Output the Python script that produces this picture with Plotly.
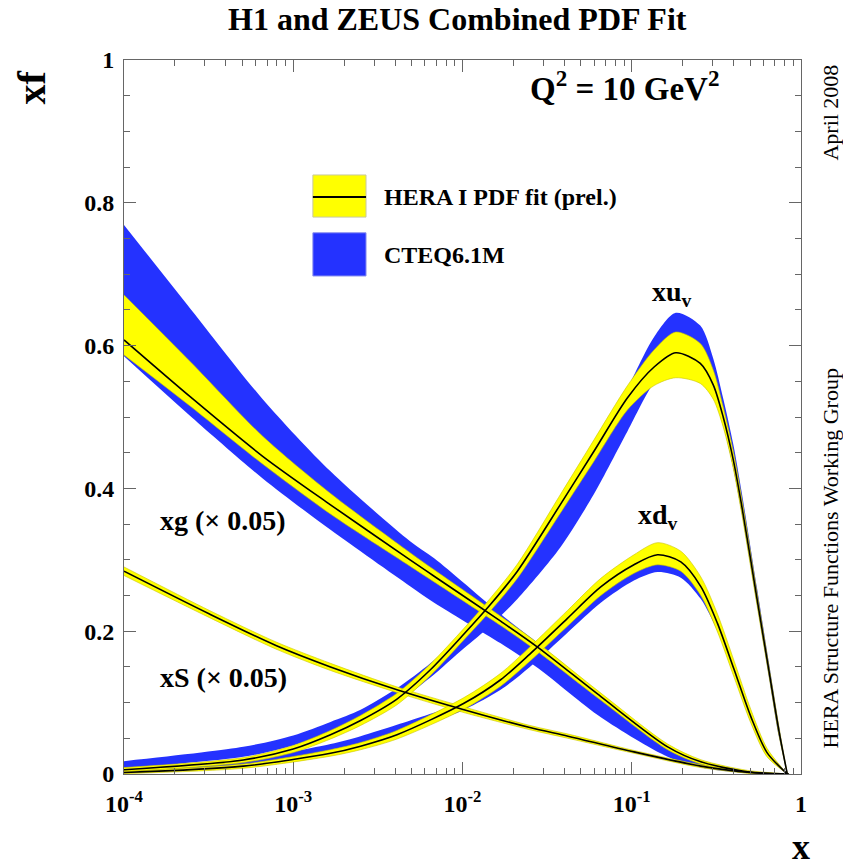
import plotly.graph_objects as go

# ---------------- data ----------------
# xg (x 0.05)
xg_x = [1e-4, 2.5e-4, 6.6e-4, 1.66e-3, 4.9e-3, 6.8e-3, 1.68e-2, 2.8e-2, 6.6e-2, 0.163, 0.256, 0.485, 0.85]
xg_hera = [0.608, 0.527, 0.445, 0.377, 0.300, 0.277, 0.214, 0.177, 0.108, 0.038, 0.017, 0.003, 0.0]
xg_hera_lo = [0.587, 0.514, 0.434, 0.364, 0.291, 0.269, 0.208, 0.171, 0.103, 0.034, 0.014, 0.001, 0.0]
xg_hera_hi = [0.671, 0.576, 0.473, 0.393, 0.310, 0.286, 0.221, 0.183, 0.113, 0.042, 0.020, 0.005, 0.0]
xg_cteq_lo = [0.585, 0.500, 0.414, 0.342, 0.263, 0.240, 0.183, 0.148, 0.079, 0.024, 0.009, 0.001, 0.0]
xg_cteq_hi = [0.769, 0.650, 0.525, 0.424, 0.326, 0.302, 0.224, 0.183, 0.112, 0.040, 0.018, 0.004, 0.0]

# xS (x 0.05)
xs_x = [1e-4, 3.2e-4, 7.9e-4, 1.66e-3, 4.1e-3, 1.02e-2, 2.5e-2, 4.2e-2, 0.103, 0.256, 0.5, 0.84]
xs_hera = [0.284, 0.224, 0.180, 0.150, 0.118, 0.090, 0.065, 0.053, 0.031, 0.011, 0.002, 0.0]
xs_hera_lo = [0.278, 0.219, 0.175, 0.145, 0.114, 0.086, 0.062, 0.050, 0.029, 0.009, 0.001, 0.0]
xs_hera_hi = [0.290, 0.229, 0.185, 0.155, 0.122, 0.094, 0.068, 0.056, 0.033, 0.013, 0.003, 0.0]

# xu_v
xu_x = [1e-4, 5.07e-4, 1e-3, 1.66e-3, 2.5e-3, 4.1e-3, 6.46e-3, 1.02e-2, 1.47e-2, 2.11e-2, 3.8e-2,
        5.98e-2, 9.44e-2, 0.1355, 0.182, 0.254, 0.303, 0.347, 0.398, 0.447, 0.55, 0.646, 0.741, 0.83]
xu_hera = [0.006, 0.0196, 0.035, 0.055, 0.075, 0.105, 0.146, 0.196, 0.238, 0.284, 0.378,
           0.452, 0.527, 0.570, 0.590, 0.575, 0.545, 0.500, 0.440, 0.375, 0.245, 0.145, 0.060, 0.0]
xu_hera_lo = [0.003, 0.016, 0.030, 0.049, 0.068, 0.097, 0.138, 0.188, 0.229, 0.274, 0.366,
              0.438, 0.510, 0.544, 0.555, 0.547, 0.525, 0.486, 0.428, 0.364, 0.236, 0.138, 0.054, 0.0]
xu_hera_hi = [0.009, 0.023, 0.040, 0.061, 0.082, 0.113, 0.154, 0.204, 0.247, 0.294, 0.392,
              0.468, 0.544, 0.594, 0.619, 0.603, 0.566, 0.514, 0.452, 0.386, 0.254, 0.152, 0.066, 0.0]
xu_cteq_lo = [0.008, 0.024, 0.040, 0.058, 0.074, 0.100, 0.135, 0.176, 0.208, 0.245, 0.318,
              0.392, 0.480, 0.548, 0.575, 0.562, 0.532, 0.488, 0.428, 0.364, 0.236, 0.136, 0.052, 0.0]
xu_cteq_hi = [0.018, 0.038, 0.054, 0.073, 0.090, 0.120, 0.155, 0.198, 0.233, 0.275, 0.372,
              0.445, 0.540, 0.612, 0.646, 0.628, 0.582, 0.526, 0.462, 0.394, 0.260, 0.156, 0.068, 0.0]

# xd_v
xd_x = [1e-4, 5.07e-4, 1.66e-3, 2.5e-3, 4.1e-3, 1.02e-2, 1.68e-2, 2.5e-2, 4.17e-2, 6.56e-2,
        0.103, 0.142, 0.195, 0.256, 0.321, 0.403, 0.506, 0.63, 0.83]
xd_hera = [0.002, 0.011, 0.029, 0.039, 0.055, 0.099, 0.132, 0.168, 0.218, 0.262,
           0.293, 0.307, 0.297, 0.2625, 0.211, 0.146, 0.080, 0.030, 0.0]
xd_hera_lo = [0.0005, 0.008, 0.025, 0.034, 0.049, 0.091, 0.123, 0.158, 0.207, 0.250,
              0.281, 0.293, 0.284, 0.250, 0.199, 0.135, 0.071, 0.024, 0.0]
xd_hera_hi = [0.004, 0.014, 0.034, 0.044, 0.061, 0.107, 0.141, 0.178, 0.229, 0.274,
              0.307, 0.324, 0.312, 0.276, 0.224, 0.158, 0.090, 0.036, 0.0]
xd_cteq_lo = [0.003, 0.013, 0.030, 0.039, 0.053, 0.090, 0.118, 0.150, 0.198, 0.240,
              0.271, 0.283, 0.275, 0.245, 0.200, 0.138, 0.072, 0.025, 0.0]
xd_cteq_hi = [0.008, 0.020, 0.042, 0.053, 0.069, 0.102, 0.135, 0.168, 0.213, 0.257,
              0.288, 0.298, 0.290, 0.262, 0.215, 0.150, 0.085, 0.035, 0.0]

x_tick_vals = [1e-4, 1e-3, 1e-2, 1e-1, 1]
x_tick_text = ["10<sup>-4</sup>", "10<sup>-3</sup>", "10<sup>-2</sup>", "10<sup>-1</sup>", "1"]
y_tick_vals = [0, 0.2, 0.4, 0.6, 0.8, 1.0]
y_tick_text = ["0", "0.2", "0.4", "0.6", "0.8", "1"]

# ---------------- styles ----------------
BLUE = "#2432ff"
YELLOW = "#ffff00"
SERIF = "Liberation Serif"
AXC = "#666666"

fig = go.Figure()


def band(x, lo, hi, color, edge=None):
    fig.add_trace(go.Scatter(
        x=list(x) + list(x)[::-1], y=list(lo) + list(hi)[::-1],
        fill="toself", fillcolor=color, mode="lines",
        line=dict(width=0.6 if edge else 0, color=edge or color, shape="spline", smoothing=0.8),
        hoverinfo="skip", showlegend=False))


def central(x, y):
    fig.add_trace(go.Scatter(x=x, y=y, mode="lines",
                             line=dict(color="black", width=1.6, shape="spline", smoothing=0.8),
                             hoverinfo="skip", showlegend=False))


# CTEQ bands first
band(xg_x, xg_cteq_lo, xg_cteq_hi, BLUE)
band(xu_x, xu_cteq_lo, xu_cteq_hi, BLUE)
band(xd_x, xd_cteq_lo, xd_cteq_hi, BLUE)
# HERA bands
band(xg_x, xg_hera_lo, xg_hera_hi, YELLOW, "#c9c200")
band(xs_x, xs_hera_lo, xs_hera_hi, YELLOW, "#c9c200")
band(xu_x, xu_hera_lo, xu_hera_hi, YELLOW, "#c9c200")
band(xd_x, xd_hera_lo, xd_hera_hi, YELLOW, "#c9c200")
# central lines
central(xg_x, xg_hera)
central(xs_x, xs_hera)
central(xu_x, xu_hera)
central(xd_x, xd_hera)

minor_x = [k * 10.0 ** e for e in range(-4, 0) for k in range(2, 10)]

fig.update_xaxes(
    type="log", range=[-4, 0], tickvals=x_tick_vals,
    ticktext=["<b>%s</b>" % t for t in x_tick_text],
    ticks="inside", ticklen=12, tickwidth=1, tickcolor=AXC,
    showline=True, linecolor=AXC, linewidth=1, mirror="allticks",
    showgrid=False, zeroline=False, ticklabelstandoff=8,
    tickfont=dict(family=SERIF, size=24, color="black"),
    minor=dict(tickvals=minor_x, ticks="inside", ticklen=6, tickcolor=AXC, showgrid=False),
)
fig.update_yaxes(
    range=[0, 1], tickvals=y_tick_vals,
    ticktext=["<b>%s</b>" % t for t in y_tick_text],
    ticks="inside", ticklen=12, tickwidth=1, tickcolor=AXC,
    showline=True, linecolor=AXC, linewidth=1, mirror="allticks",
    showgrid=False, zeroline=False, ticklabelstandoff=4,
    tickfont=dict(family=SERIF, size=24, color="black"),
    minor=dict(dtick=0.05, ticks="inside", ticklen=6, tickcolor=AXC, showgrid=False),
)

ann = []


def txt(t, x, y, size, bold=True, xanchor="center", angle=0):
    ann.append(dict(text=("<b>%s</b>" % t) if bold else t, x=x, y=y, xref="paper", yref="paper",
                    xanchor=xanchor, yanchor="middle", showarrow=False, textangle=angle,
                    font=dict(family=SERIF, size=size, color="black")))


txt("H1 and ZEUS Combined PDF Fit", 0.493, 1.057, 32)
txt("Q<sup>2</sup> = 10 GeV<sup>2</sup>", 0.7386, 0.9636, 33)
txt("xf", -0.137, 0.962, 40, angle=-90)
txt("x", 1.0, -0.102, 36)
txt("April 2008", 1.0435, 0.927, 22, bold=False, angle=-90)
txt("HERA Structure Functions Working Group", 1.0435, 0.3025, 22, bold=False, angle=-90)
txt("xu<sub>v</sub>", 0.8095, 0.673, 28)
txt("xd<sub>v</sub>", 0.789, 0.360, 28)
txt("xg (× 0.05)", 0.050, 0.3557, 28, xanchor="left")
txt("xS (× 0.05)", 0.050, 0.1345, 28, xanchor="left")
txt("HERA I PDF fit (prel.)", 0.381, 0.808, 24, xanchor="left")
txt("CTEQ6.1M", 0.381, 0.727, 24, xanchor="left")

shapes = [
    dict(type="rect", xref="paper", yref="paper", x0=0.279, x1=0.3575, y0=0.780, y1=0.839,
         fillcolor=YELLOW, line=dict(color="#c9c9a0", width=1)),
    dict(type="line", xref="paper", yref="paper", x0=0.279, x1=0.3575, y0=0.808, y1=0.808,
         line=dict(color="black", width=2)),
    dict(type="rect", xref="paper", yref="paper", x0=0.279, x1=0.3575, y0=0.6975, y1=0.758,
         fillcolor=BLUE, line=dict(color="#8a90ee", width=1)),
]

fig.update_layout(
    width=843, height=866, margin=dict(l=124, r=42, t=60, b=92),
    plot_bgcolor="white", paper_bgcolor="white", showlegend=False,
    annotations=ann, shapes=shapes,
)

fig.write_html("out.html", config={"displayModeBar": False},
               post_script="document.body.style.margin='0px';document.body.style.overflow='hidden';")
